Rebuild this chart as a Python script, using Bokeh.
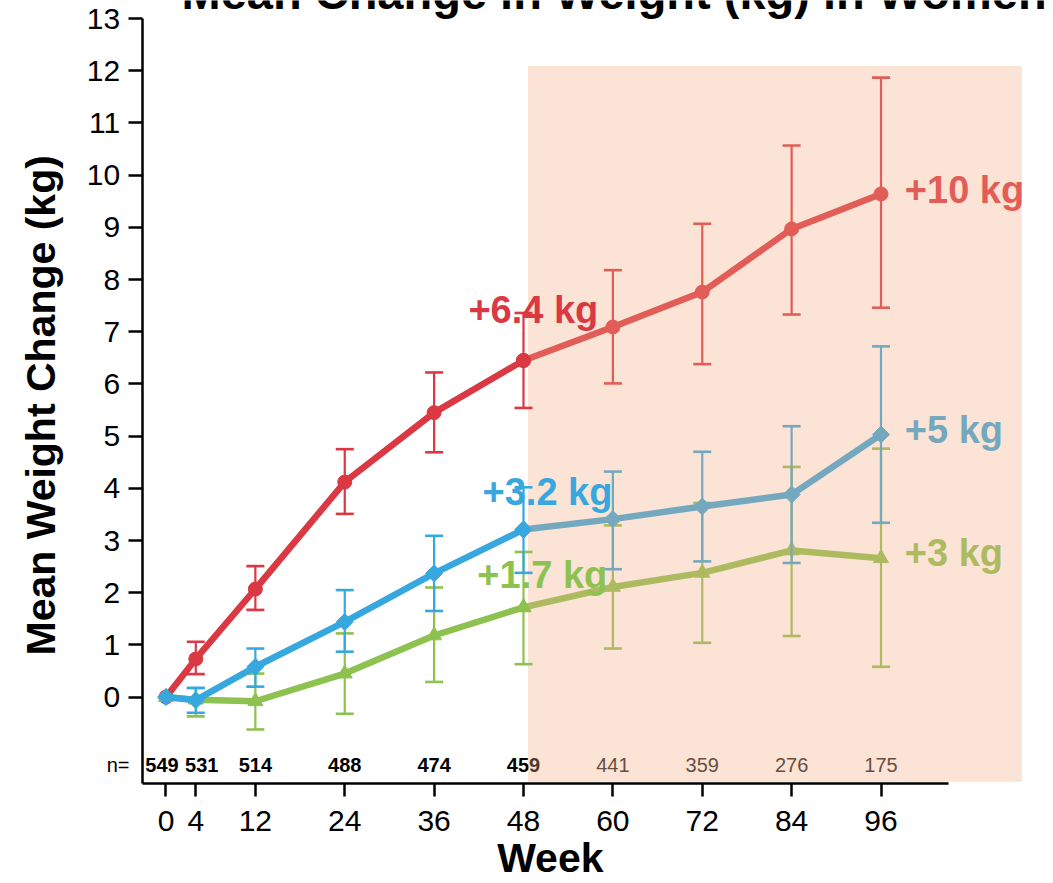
import math
from bokeh.plotting import figure
from bokeh.models import Range1d, FixedTicker
from bokeh.embed import file_html
from bokeh.resources import INLINE
from bokeh.core.properties import value

# ---------------- data ----------------
weeks = [0, 4, 12, 24, 36, 48, 60, 72, 84, 96]
n_counts = [549, 531, 514, 488, 474, 459, 441, 359, 276, 175]

red_mean = [0, 0.73, 2.07, 4.12, 5.45, 6.45, 7.09, 7.76, 8.97, 9.64]
red_lo = [0, 0.44, 1.67, 3.51, 4.69, 5.54, 6.01, 6.38, 7.33, 7.46]
red_hi = [0, 1.06, 2.51, 4.75, 6.22, 7.36, 8.18, 9.07, 10.57, 11.87]

blue_mean = [0, -0.06, 0.58, 1.44, 2.37, 3.21, 3.41, 3.65, 3.88, 5.03]
blue_lo = [0, -0.30, 0.20, 0.87, 1.65, 2.38, 2.45, 2.60, 2.57, 3.34]
blue_hi = [0, 0.18, 0.93, 2.05, 3.09, 4.02, 4.32, 4.70, 5.19, 6.72]

green_mean = [0, -0.05, -0.08, 0.45, 1.18, 1.72, 2.11, 2.38, 2.81, 2.66]
green_lo = [0, -0.37, -0.62, -0.32, 0.29, 0.63, 0.93, 1.04, 1.17, 0.58]
green_hi = [0, 0.17, 0.45, 1.22, 2.10, 2.78, 3.29, 3.72, 4.41, 4.76]

label_48 = ["+6.4 kg", "+3.2 kg", "+1.7 kg"]
label_96 = ["+10 kg", "+5 kg", "+3 kg"]
y_ticks = list(range(0, 14))

title_text = "Mean Change in Weight (kg) in Women"
x_title = "Week"
y_title = "Mean Weight Change (kg)"
n_prefix = "n="

# ---------------- layout / style ----------------
W, H = 1053, 883
X0, X1 = -22.22, 119.16
Y0, Y1 = -3.572, 13.347
YPX = H / (Y1 - Y0)          # pixels per kg


def lift(fs):
    """compensate the renderer's baseline placement (px -> data units)"""
    return 0.36 * fs / YPX


FONT = "Liberation Sans"
RED = "#DA3843"
BLUE = "#36A8DF"
GREEN = "#8DC250"
SHADE = "#F3AB81"

p = figure(width=W, height=H, output_backend="svg", toolbar_location=None,
           x_range=Range1d(X0, X1), y_range=Range1d(Y0, Y1),
           min_border_left=0, min_border_right=0, min_border_top=0,
           min_border_bottom=0)
p.outline_line_color = None
p.grid.visible = False
p.background_fill_color = "white"

AX_X = -3.2      # x where the y axis sits
AX_Y = -1.655    # y where the x axis sits

for ax in (p.xaxis[0], p.yaxis[0]):
    ax.axis_line_width = 2.5
    ax.axis_line_color = "black"
    ax.major_tick_line_width = 2.5
    ax.major_tick_line_color = "black"
    ax.major_tick_in = 0
    ax.minor_tick_line_color = None
    ax.major_label_text_font = FONT
    ax.major_label_text_font_size = "30px"
    ax.major_label_text_color = "black"

p.xaxis.ticker = FixedTicker(ticks=weeks)
p.xaxis.fixed_location = AX_Y
p.xaxis.major_tick_out = 13
p.xaxis.major_label_standoff = 15
p.xaxis.bounds = (AX_X, 105.0)
p.yaxis.ticker = FixedTicker(ticks=y_ticks)
p.yaxis.fixed_location = AX_X
p.yaxis.major_tick_out = 14
p.yaxis.major_label_standoff = 8
p.yaxis.bounds = (AX_Y, 13)

series = [
    (red_mean, red_lo, red_hi, RED, "circle", 14, 0),
    (green_mean, green_lo, green_hi, GREEN, "triangle", 15, 0),
    (blue_mean, blue_lo, blue_hi, BLUE, "square", 12, math.pi / 4),
]


def draw_bars(idx, lo, hi, color):
    xs = [weeks[i] for i in idx]
    los = [lo[i] for i in idx]
    his = [hi[i] for i in idx]
    p.segment(x0=xs, y0=los, x1=xs, y1=his, line_color=color, line_width=2.2)
    p.scatter(x=xs + xs, y=los + his, marker="dash", size=18, line_color=color,
              line_width=2.6)


idx_other = [i for i, w in enumerate(weeks) if w != 0 and w != 48]
idx_48 = [weeks.index(48)]

# everything except the week-48 details (covered by the shading)
for mean, lo, hi, color, marker, size, ang in series:
    p.line(weeks, mean, line_color=color, line_width=6.5)
    draw_bars(idx_other, lo, hi, color)
    p.scatter(x=weeks, y=mean, marker=marker, size=size, angle=ang,
              fill_color=color, line_color=color)

# n labels
N_FS = 20
N_Y = (696.6 - 771.7) / YPX + lift(N_FS)
n_off = [-4, 6, 0, 0, 0, 0, 0, 0, 0, 0]
bold_idx = [i for i, w in enumerate(weeks) if w <= 48]
norm_idx = [i for i, w in enumerate(weeks) if w > 48]
p.text(x=[weeks[i] for i in bold_idx], y=[N_Y] * len(bold_idx),
       text=[str(n_counts[i]) for i in bold_idx], x_offset=[n_off[i] for i in bold_idx],
       text_font=value(FONT), text_font_size=f"{N_FS}px", text_font_style="bold",
       text_align="center", text_baseline="alphabetic", text_color="black")
p.text(x=[weeks[i] for i in norm_idx], y=[N_Y] * len(norm_idx),
       text=[str(n_counts[i]) for i in norm_idx],
       text_font=value(FONT), text_font_size=f"{N_FS}px", text_font_style="normal",
       text_align="center", text_baseline="alphabetic", text_color="#222222")
p.text(x=[-4.9], y=[N_Y], text=[n_prefix], text_font=value(FONT),
       text_font_size=f"{N_FS}px", text_align="right", text_baseline="alphabetic",
       text_color="black")

# end labels at week 96
L = lift(38)
p.text(x=[99.2] * 3, y=[9.45 + L, 4.85 + L, 2.49 + L], text=label_96,
       text_font=value(FONT), text_font_size="38px", text_font_style="bold",
       text_color=[RED, BLUE, GREEN], text_align="left", text_baseline="alphabetic")

# shaded extension period
p.quad(left=48.6, right=114.9, bottom=-1.62, top=12.09, fill_color=SHADE,
       fill_alpha=0.33, line_color=None)

# week-48 details on top of the shading
for mean, lo, hi, color, marker, size, ang in series:
    draw_bars(idx_48, lo, hi, color)
    p.scatter(x=[48], y=[mean[idx_48[0]]], marker=marker, size=size, angle=ang,
              fill_color=color, line_color=color)

p.text(x=[40.6, 42.5, 41.8], y=[7.16 + L, 3.67 + L, 2.08 + L], text=label_48,
       text_font=value(FONT), text_font_size="38px", text_font_style="bold",
       text_color=[RED, BLUE, GREEN], text_align="left", text_baseline="alphabetic")

# axis titles and chart title
p.text(x=[51.6], y=[(696.6 - 872) / YPX + lift(41)], text=[x_title],
       text_font=value(FONT), text_font_size="41px", text_font_style="bold",
       text_align="center", text_baseline="alphabetic", text_color="black")
p.text(x=[(55 - 0.36 * 41 - 165.5) / 7.448], y=[5.59], text=[y_title], angle=math.pi / 2,
       text_font=value(FONT), text_font_size="41px", text_font_style="bold",
       text_align="center", text_baseline="alphabetic", text_color="black")
p.text(x=[2.08], y=[13.0], y_offset=[(9 - 0.36 * 47) - 18.1], text=[title_text],
       text_font=value(FONT), text_font_size="47px", text_font_style="bold",
       text_align="left", text_baseline="alphabetic", text_color="black")

open("out.html", "w").write(file_html(p, INLINE))
